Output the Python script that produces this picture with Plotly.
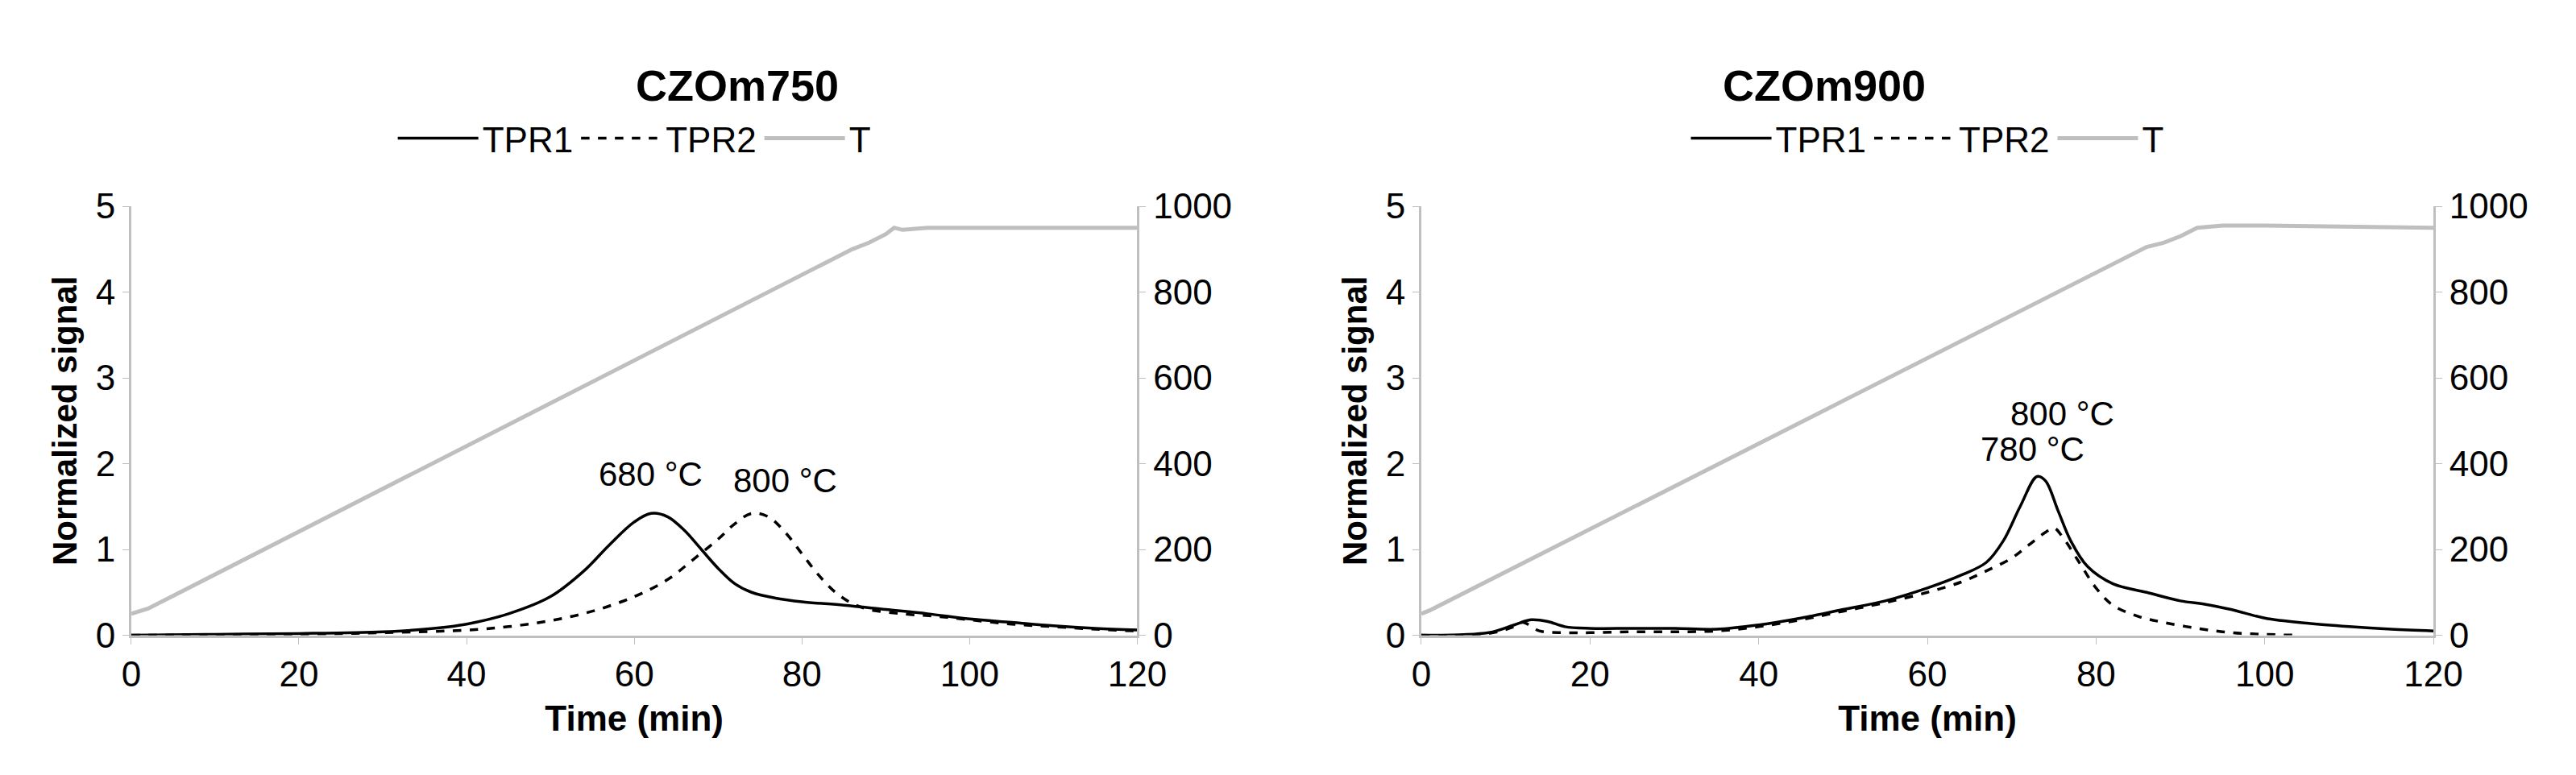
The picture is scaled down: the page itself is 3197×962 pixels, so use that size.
import plotly.graph_objects as go

# ---- data ----
t1_tpr1 = [0, 10, 20, 30, 35, 40, 45, 50, 54, 57, 60, 62, 64, 66, 68, 70, 72, 74, 77, 80, 85, 90, 95, 100, 105, 110, 115, 120]
v1_tpr1 = [0, 0.01, 0.02, 0.04, 0.07, 0.13, 0.25, 0.45, 0.75, 1.05, 1.32, 1.42, 1.38, 1.22, 1.0, 0.78, 0.6, 0.5, 0.43, 0.39, 0.35, 0.3, 0.25, 0.19, 0.15, 0.11, 0.08, 0.06]
t1_tpr2 = [0, 20, 30, 40, 45, 50, 55, 60, 64, 67, 70, 72, 74, 76, 78, 80, 82, 84, 86, 88, 92, 96, 100, 105, 110, 115, 120]
v1_tpr2 = [0, 0.01, 0.03, 0.06, 0.1, 0.17, 0.28, 0.45, 0.65, 0.88, 1.12, 1.3, 1.42, 1.38, 1.2, 0.95, 0.7, 0.5, 0.37, 0.3, 0.25, 0.22, 0.18, 0.13, 0.1, 0.07, 0.05]
t1_T = [0, 2, 86, 88, 90, 91, 92, 95, 120]
v1_T = [50, 62, 900, 915, 935, 950, 945, 950, 950]

t2_tpr1 = [0, 8, 11, 13, 15, 17, 20, 25, 30, 35, 40, 45, 50, 55, 60, 64, 67, 69, 71, 73, 74, 75.5, 77, 79, 82, 86, 90, 93, 96, 100, 105, 110, 115, 120]
v2_tpr1 = [0, 0.03, 0.12, 0.18, 0.16, 0.1, 0.08, 0.08, 0.08, 0.07, 0.12, 0.2, 0.3, 0.4, 0.55, 0.7, 0.85, 1.1, 1.5, 1.85, 1.8, 1.45, 1.1, 0.8, 0.6, 0.5, 0.4, 0.36, 0.3, 0.2, 0.14, 0.1, 0.07, 0.05]
t2_tpr2 = [0, 8, 11, 12, 14, 17, 20, 25, 30, 35, 40, 45, 50, 55, 60, 64, 67, 70, 72, 74, 75, 76, 78, 80, 82, 85, 88, 92, 96, 100, 104]
v2_tpr2 = [0, 0.02, 0.1, 0.15, 0.05, 0.03, 0.03, 0.04, 0.04, 0.05, 0.1, 0.18, 0.28, 0.38, 0.5, 0.62, 0.75, 0.9, 1.05, 1.2, 1.25, 1.15, 0.85, 0.55, 0.35, 0.22, 0.15, 0.08, 0.03, 0.01, 0]
t2_T = [0, 1, 86, 88, 90, 92, 95, 100, 120]
v2_T = [50, 58, 905, 915, 930, 950, 955, 955, 950]

titles = ["CZOm750", "CZOm900"]
x_ticks = [0, 20, 40, 60, 80, 100, 120]
y_ticks = [0, 1, 2, 3, 4, 5]
y2_ticks = [0, 200, 400, 600, 800, 1000]
labels = [
    [(62, 1.88, "680 °C"), (78, 1.8, "800 °C")],
    [(76, 2.58, "800 °C"), (72.5, 2.17, "780 °C")],
]

FONT = "Liberation Sans, Arial, sans-serif"
GRAY = "#bfbfbf"
fig = go.Figure()

doms = [[0.0454, 0.442], [0.554, 0.953]]
ydom = [0.1725, 0.7557]
series = [
    (t1_tpr1, v1_tpr1, t1_tpr2, v1_tpr2, t1_T, v1_T),
    (t2_tpr1, v2_tpr1, t2_tpr2, v2_tpr2, t2_T, v2_T),
]
layout = {}
for i, (a, b, c, d, e, f) in enumerate(series):
    xn = "x" if i == 0 else "x3"
    yn = "y" if i == 0 else "y3"
    y2n = "y2" if i == 0 else "y4"
    lg = "legend" if i == 0 else "legend2"
    fig.add_trace(go.Scatter(x=a, y=b, mode="lines", name="TPR1", xaxis=xn, yaxis=yn, legend=lg,
                             line=dict(color="black", width=3.5, shape="spline")))
    fig.add_trace(go.Scatter(x=c, y=d, mode="lines", name="TPR2", xaxis=xn, yaxis=yn, legend=lg,
                             line=dict(color="black", width=3.5, dash="dash", shape="spline")))
    fig.add_trace(go.Scatter(x=e, y=f, mode="lines", name="T", xaxis=xn, yaxis=y2n, legend=lg,
                             line=dict(color=GRAY, width=5)))
    xk = "xaxis" if i == 0 else "xaxis3"
    yk = "yaxis" if i == 0 else "yaxis3"
    y2k = "yaxis2" if i == 0 else "yaxis4"
    layout[xk] = dict(domain=doms[i], range=[0, 120], tickvals=x_ticks, anchor=yn,
                      showline=True, linecolor=GRAY, linewidth=3, ticks="outside", tickcolor=GRAY,
                      ticklen=8, showgrid=False, zeroline=False, tickfont=dict(size=44),
                      title=dict(text="<b>Time (min)</b>", font=dict(size=44), standoff=16))
    layout[yk] = dict(domain=ydom, range=[0, 5], tickvals=y_ticks, anchor=xn,
                      showline=True, linecolor=GRAY, linewidth=3, ticks="outside", tickcolor=GRAY,
                      ticklen=8, showgrid=False, zeroline=False, tickfont=dict(size=44),
                      title=dict(text="<b>Normalized signal</b>", font=dict(size=42), standoff=10))
    layout[y2k] = dict(range=[0, 1000], tickvals=y2_ticks, overlaying=yn, side="right", anchor=xn,
                       showline=True, linecolor=GRAY, linewidth=3, ticks="outside", tickcolor=GRAY,
                       ticklen=8, showgrid=False, zeroline=False, tickfont=dict(size=44))

ann = []
for i in range(2):
    xc = (doms[i][0] + doms[i][1]) / 2
    ann.append(dict(text=f"<b>{titles[i]}</b>", x=xc, y=0.955, xref="paper", yref="paper",
                    showarrow=False, font=dict(size=54)))
    xr = "x" if i == 0 else "x3"
    yr = "y" if i == 0 else "y3"
    for (ax, ay, txt) in labels[i]:
        ann.append(dict(text=txt, x=ax, y=ay, xref=xr, yref=yr, showarrow=False, font=dict(size=42)))

leg = dict(orientation="h", yanchor="middle", xanchor="center", y=0.848,
           font=dict(size=44), bgcolor="rgba(0,0,0,0)", itemwidth=100)
fig.update_layout(
    width=3197, height=962, margin=dict(l=0, r=0, t=0, b=0),
    paper_bgcolor="white", plot_bgcolor="white",
    font=dict(family=FONT, color="black"),
    legend=dict(leg, x=sum(doms[0]) / 2),
    legend2=dict(leg, x=sum(doms[1]) / 2),
    annotations=ann,
    **layout,
)
fig.write_html("out.html")
